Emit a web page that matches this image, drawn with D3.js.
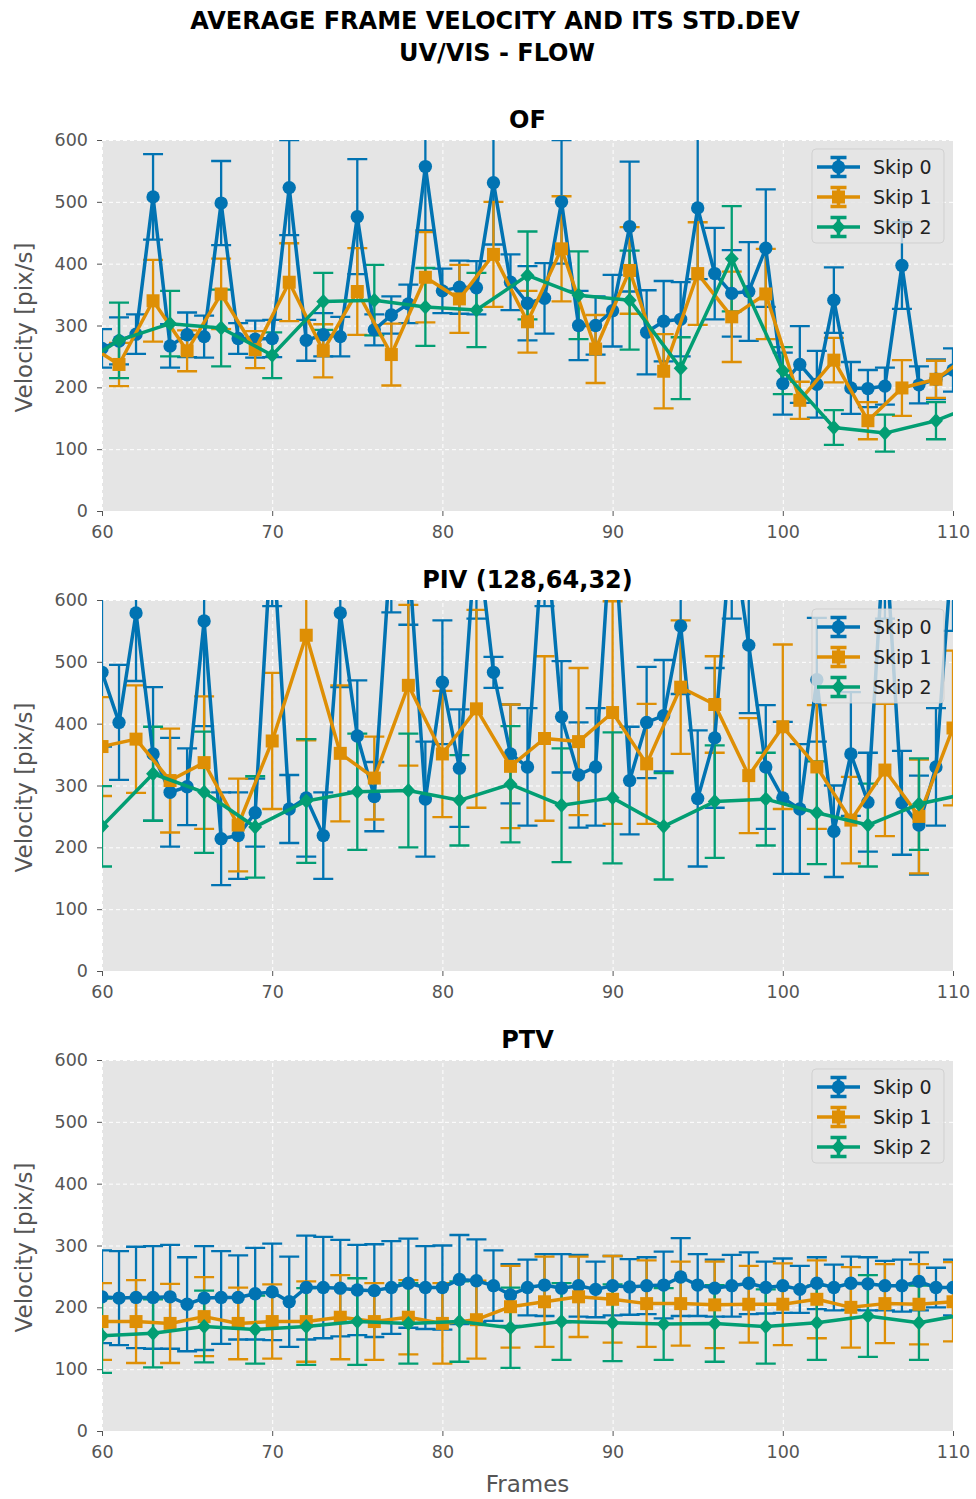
<!DOCTYPE html>
<html>
<head>
<meta charset="utf-8">
<script src="https://cdn.jsdelivr.net/npm/d3@7"></script>
<style>
  body { margin: 0; background: #fff; }
  svg text { font-family: "DejaVu Sans", sans-serif; }
</style>
</head>
<body>
<div id="chart"></div>
<script>
// ---- data ----
const framesAll = [60,61,62,63,64,65,66,67,68,69,70,71,72,73,74,75,76,77,78,79,80,81,82,83,84,85,86,87,88,89,
                   90,91,92,93,94,95,96,97,98,99,100,101,102,103,104,105,106,107,108,109,110];
const framesOdd = [59,61,63,65,67,69,71,73,75,77,79,81,83,85,87,89,91,93,95,97,99,101,103,105,107,109,111];
const framesEven = [60,62,64,66,68,70,72,74,76,78,80,82,84,86,88,90,92,94,96,98,100,102,104,106,108,110];
const framesStep3a = [58,61,64,67,70,73,76,79,82,85,88,91,94,97,100,103,106,109,112];
const framesStep3b = [60,63,66,69,72,75,78,81,84,87,90,93,96,99,102,105,108,111];

// OF
const ofSkip0Mean = [263,275,286,508,267,285,282,498,279,278,279,523,276,285,282,476,293,317,335,557,
                     356,362,361,531,370,336,344,500,300,300,324,460,289,307,310,490,384,352,355,425,
                     206,237,205,341,199,198,202,397,204,213,228];
const ofSkip0Err = [31,38,32,69,35,36,34,68,25,30,30,77,33,35,32,93,25,30,31,103,
                    36,43,43,100,45,60,57,100,56,47,58,105,68,65,60,115,74,70,80,95,
                    50,62,54,53,42,30,30,70,30,32,35];
const ofSkip1Mean = [272,237,340,259,351,261,370,259,355,253,378,343,415,306,424,262,389,226,384,314,351,179,244,146,199,213,253];
const ofSkip1Err = [35,35,66,33,57,30,63,43,70,50,73,55,85,50,85,55,70,60,83,73,73,30,36,30,45,30,35];
const ofSkip2Mean = [224,276,303,296,252,339,341,330,325,381,349,341,231,408,227,135,126,146,179];
const ofSkip2Err = [40,61,53,62,37,46,57,63,60,71,71,80,50,85,38,28,30,30,30];

// PIV (128,64,32)
const pivSkip0Mean = [483,402,579,351,289,298,566,214,219,256,720,262,280,219,579,380,282,700,680,278,
                      467,328,720,483,351,330,740,411,317,330,760,308,402,413,558,279,377,720,527,330,
                      280,262,471,226,351,273,720,272,236,330,700];
const pivSkip0Err = [120,93,110,108,88,62,170,75,70,55,130,55,95,70,120,90,56,120,120,93,
                     100,95,150,25,80,95,150,90,85,95,150,87,90,90,110,110,113,150,110,100,
                     123,105,100,74,100,80,150,84,80,95,150];
const pivSkip1Mean = [363,375,308,337,236,372,543,352,312,462,351,424,331,376,371,418,335,459,431,316,395,330,244,325,250,393];
const pivSkip1Err = [80,87,84,107,75,110,170,110,67,130,102,160,100,133,119,180,97,108,78,93,133,100,70,107,92,125];
const pivSkip2Mean = [234,319,289,233,275,290,292,276,302,268,280,234,274,278,256,236,270,288];
const pivSkip2Err = [65,76,98,82,100,94,92,73,94,92,106,86,91,75,83,67,74,70];

// PTV
const ptvSkip0Mean = [217,215,216,216,217,205,215,216,216,222,225,209,232,232,231,228,227,232,239,232,
                      232,245,243,235,220,232,236,231,235,229,235,233,235,236,249,236,231,235,239,232,
                      235,229,239,232,239,238,235,235,242,232,232];
const ptvSkip0Err = [75,76,82,83,84,76,84,75,68,74,78,73,84,82,78,73,75,75,72,67,
                     68,72,67,57,50,45,50,55,50,45,48,45,46,54,63,50,46,50,50,42,
                     44,38,42,37,43,43,40,42,47,32,45];
const ptvSkip1Mean = [177,177,174,185,174,177,177,184,177,184,174,180,201,209,217,213,206,206,204,205,205,213,200,206,205,209];
const ptvSkip1Err = [62,67,64,64,58,60,65,68,62,60,65,63,66,73,65,70,70,68,70,62,66,63,65,64,65,64];
const ptvSkip2Mean = [154,158,169,164,169,177,174,177,167,177,175,173,174,169,175,186,175,190];
const ptvSkip2Err = [60,55,58,55,62,70,65,65,65,62,62,58,62,60,60,66,60,60];

const seriesNames = ["Skip 0", "Skip 1", "Skip 2"];
const seriesColors = ["#0173b2", "#de8f05", "#029e73"];
const seriesShapes = ["circle", "square", "diamond"];
const yTicks = [0, 100, 200, 300, 400, 500, 600];
const xTicks = [60, 70, 80, 90, 100, 110];

const panels = [
  { title: "OF", series: [
      { frames: framesAll, mean: ofSkip0Mean, err: ofSkip0Err },
      { frames: framesOdd, mean: ofSkip1Mean, err: ofSkip1Err },
      { frames: framesStep3a, mean: ofSkip2Mean, err: ofSkip2Err } ] },
  { title: "PIV (128,64,32)", series: [
      { frames: framesAll, mean: pivSkip0Mean, err: pivSkip0Err },
      { frames: framesEven, mean: pivSkip1Mean, err: pivSkip1Err },
      { frames: framesStep3b, mean: pivSkip2Mean, err: pivSkip2Err } ] },
  { title: "PTV", series: [
      { frames: framesAll, mean: ptvSkip0Mean, err: ptvSkip0Err },
      { frames: framesEven, mean: ptvSkip1Mean, err: ptvSkip1Err },
      { frames: framesStep3b, mean: ptvSkip2Mean, err: ptvSkip2Err } ] }
];

// ---- layout ----
const width = 976, height = 1499;
const plotLeft = 102, plotRight = 953, plotH = 371;
const panelTops = [140, 600, 1060];
const capW = 10;

const svg = d3.select("#chart").append("svg")
    .attr("width", width)
    .attr("height", height);

svg.append("text")
    .attr("x", 495).attr("y", 29)
    .attr("text-anchor", "middle")
    .style("font-size", "24px").style("font-weight", "bold")
    .text("AVERAGE FRAME VELOCITY AND ITS STD.DEV");
svg.append("text")
    .attr("x", 497).attr("y", 61)
    .attr("text-anchor", "middle")
    .style("font-size", "24px").style("font-weight", "bold")
    .text("UV/VIS - FLOW");

function markerPath(shape) {
    if (shape === "circle") return d3.symbol(d3.symbolCircle, 140)();
    if (shape === "square") return "M-6.5,-6.5H6.5V6.5H-6.5Z";
    return "M0,-7.5L7,0L0,7.5L-7,0Z";
}

panels.forEach((panel, pi) => {
    const top = panelTops[pi];
    const bottom = top + plotH;
    const x = d3.scaleLinear().domain([60, 110]).range([plotLeft, plotRight]);
    const y = d3.scaleLinear().domain([0, 600]).range([bottom, top]);

    const g = svg.append("g");

    g.append("rect")
        .attr("x", plotLeft).attr("y", top)
        .attr("width", plotRight - plotLeft).attr("height", plotH)
        .attr("fill", "#e5e5e5");

    // grid
    const gx = g.append("g")
        .attr("transform", "translate(0," + bottom + ")")
        .call(d3.axisBottom(x).tickValues(xTicks).tickSize(-plotH).tickFormat(""));
    const gy = g.append("g")
        .attr("transform", "translate(" + plotLeft + ",0)")
        .call(d3.axisLeft(y).tickValues(yTicks).tickSize(-(plotRight - plotLeft)).tickFormat(""));
    [gx, gy].forEach(a => {
        a.select(".domain").remove();
        a.selectAll("line").attr("stroke", "#ffffff").attr("stroke-width", 1).attr("stroke-dasharray", "4,3");
    });

    // axes
    const ax = g.append("g")
        .attr("transform", "translate(0," + bottom + ")")
        .call(d3.axisBottom(x).tickValues(xTicks).tickSize(5).tickPadding(10));
    const ay = g.append("g")
        .attr("transform", "translate(" + plotLeft + ",0)")
        .call(d3.axisLeft(y).tickValues(yTicks).tickSize(5).tickPadding(9));
    [ax, ay].forEach(a => {
        a.select(".domain").remove();
        a.selectAll("line").attr("stroke", "#555");
        a.selectAll("text").attr("fill", "#555").style("font-size", "17.5px")
            .style("font-family", "DejaVu Sans, sans-serif");
    });

    g.append("text")
        .attr("transform", "translate(32," + (top + plotH / 2 + 2) + ") rotate(-90)")
        .attr("text-anchor", "middle")
        .attr("fill", "#555")
        .style("font-size", "23px")
        .text("Velocity [pix/s]");

    g.append("text")
        .attr("x", (plotLeft + plotRight) / 2).attr("y", top - 12)
        .attr("text-anchor", "middle")
        .style("font-size", "24px").style("font-weight", "bold")
        .text(panel.title);

    // clipped data
    const clipId = "clip" + pi;
    svg.append("clipPath").attr("id", clipId)
        .append("rect")
        .attr("x", plotLeft).attr("y", top)
        .attr("width", plotRight - plotLeft).attr("height", plotH);
    const data = g.append("g").attr("clip-path", "url(#" + clipId + ")");

    // error bars first (under all lines)
    panel.series.forEach((s, si) => {
        const pts = s.frames.map((f, i) => ({ f: f, m: s.mean[i], e: s.err[i] }));
        const bars = data.append("g")
            .attr("stroke", seriesColors[si])
            .attr("stroke-width", 2.3)
            .attr("fill", "none");
        bars.selectAll("path")
            .data(pts)
            .enter()
            .append("path")
            .attr("d", d => {
                const cx = x(d.f), y0 = y(d.m - d.e), y1 = y(d.m + d.e);
                return "M" + cx + "," + y0 + "V" + y1 +
                    "M" + (cx - capW) + "," + y0 + "H" + (cx + capW) +
                    "M" + (cx - capW) + "," + y1 + "H" + (cx + capW);
            });
    });

    // lines and markers
    panel.series.forEach((s, si) => {
        const pts = s.frames.map((f, i) => ({ f: f, m: s.mean[i] }));
        data.append("path")
            .datum(pts)
            .attr("fill", "none")
            .attr("stroke", seriesColors[si])
            .attr("stroke-width", 3.5)
            .attr("stroke-linejoin", "round")
            .attr("d", d3.line().x(d => x(d.f)).y(d => y(d.m)));
        data.append("g").selectAll("path")
            .data(pts)
            .enter()
            .append("path")
            .attr("transform", d => "translate(" + x(d.f) + "," + y(d.m) + ")")
            .attr("d", markerPath(seriesShapes[si]))
            .attr("fill", seriesColors[si]);
    });

    // legend
    const lg = g.append("g").attr("transform", "translate(812," + (top + 9) + ")");
    lg.append("rect")
        .attr("width", 132).attr("height", 94)
        .attr("rx", 4)
        .attr("fill", "#e5e5e5").attr("fill-opacity", 0.8)
        .attr("stroke", "#cccccc").attr("stroke-opacity", 0.8);
    seriesNames.forEach((name, si) => {
        const cy = 18 + si * 30;
        const item = lg.append("g").attr("transform", "translate(0," + cy + ")");
        item.append("path")
            .attr("d", "M5,0H48M26.5,-9.5V9.5M18.5,-9.5H34.5M18.5,9.5H34.5")
            .attr("stroke", seriesColors[si]).attr("stroke-width", 3.5).attr("fill", "none");
        item.append("path")
            .attr("transform", "translate(26.5,0)")
            .attr("d", markerPath(seriesShapes[si]))
            .attr("fill", seriesColors[si]);
        item.append("text")
            .attr("x", 61).attr("y", 7)
            .attr("fill", "#222")
            .style("font-size", "19px")
            .text(name);
    });
});

svg.append("text")
    .attr("x", (plotLeft + plotRight) / 2).attr("y", 1492)
    .attr("text-anchor", "middle")
    .attr("fill", "#555")
    .style("font-size", "23px")
    .text("Frames");
</script>
</body>
</html>
